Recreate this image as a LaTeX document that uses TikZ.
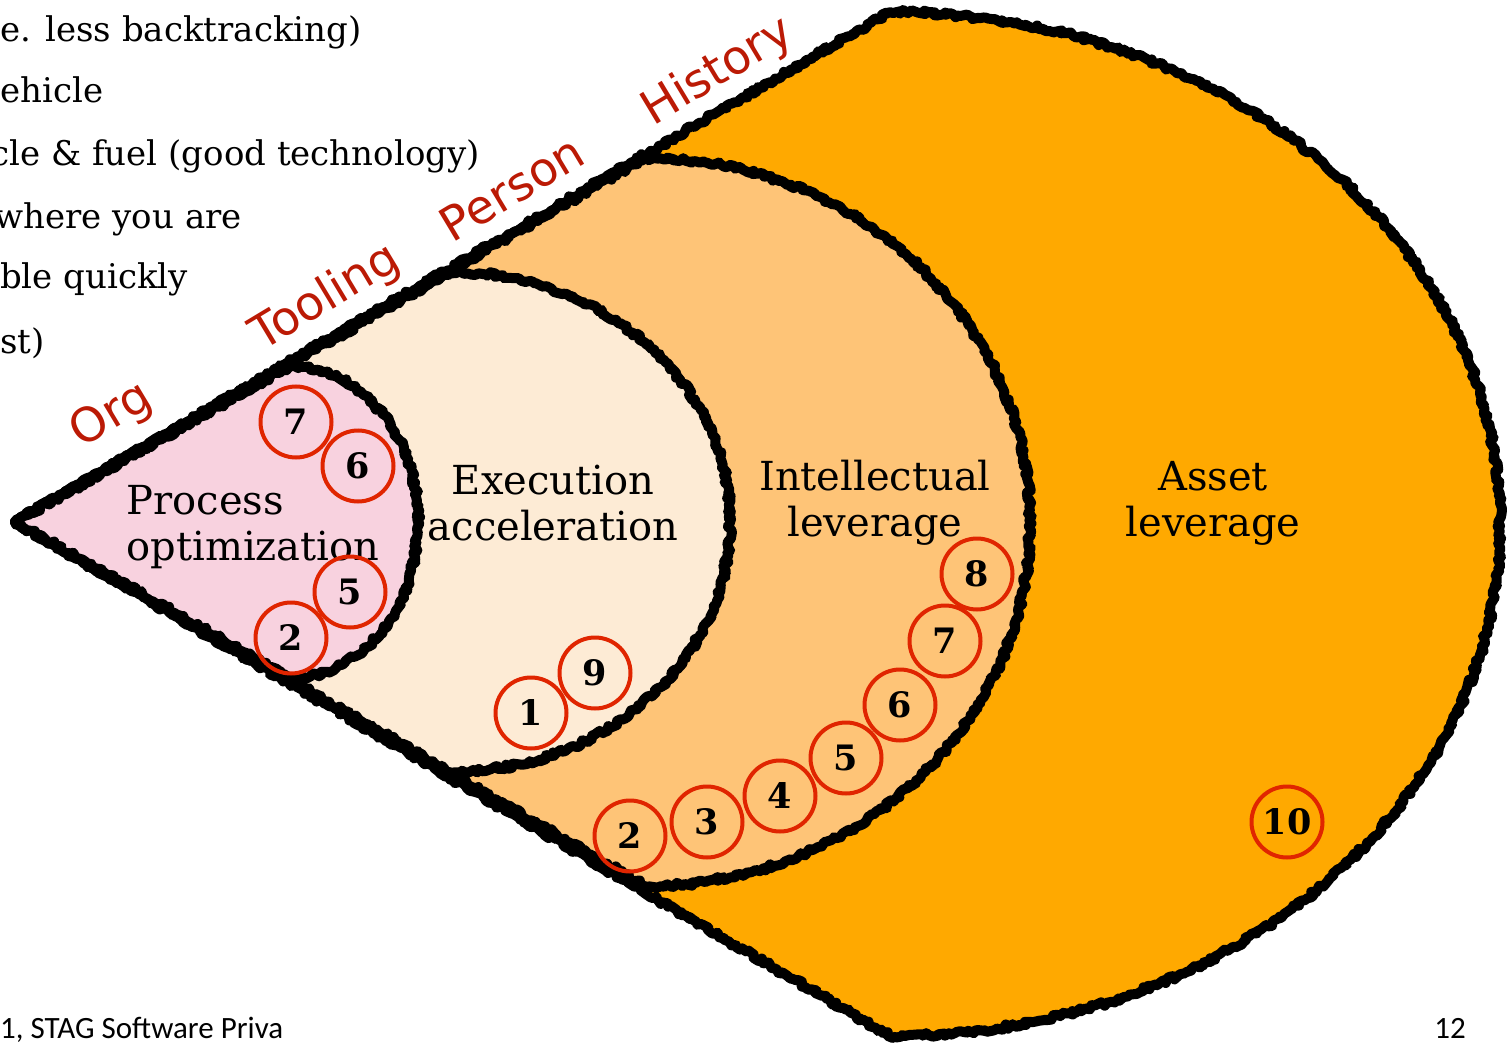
\documentclass[tikz,border=0pt]{standalone}
\usepackage{fontspec}
\setmainfont{DejaVu Serif}
\newfontfamily\tagfont{DejaVu Sans}
\newfontfamily\footfont{Carlito}
\usetikzlibrary{decorations.pathmorphing}
\definecolor{pinkfill}{HTML}{F8D2DF}
\definecolor{creamfill}{HTML}{FDEBD5}
\definecolor{peachfill}{HTML}{FEC477}
\definecolor{assetfill}{HTML}{FFA900}
\definecolor{tagred}{HTML}{BB1A05}
\definecolor{ringred}{HTML}{E02500}

\begin{document}
\begin{tikzpicture}[x=1pt, y=-1pt,
	rough/.style={draw=black, line width=10pt, line join=round, decorate, decoration={random steps, segment length=3pt, amplitude=2.4pt}},
	num/.style={circle, draw=ringred, line width=4pt, minimum size=71pt, inner sep=0pt, font=\fontsize{35}{35}\selectfont\bfseries},
	zone/.style={font=\fontsize{40}{46}\selectfont, align=center},
	tag/.style={font=\tagfont\fontsize{47}{47}\selectfont, text=tagred, rotate=31, inner sep=0pt},
	note/.style={font=\fontsize{34}{40}\selectfont, anchor=base west, inner sep=0pt},
	foot/.style={font=\footfont\fontsize{31}{32}\selectfont, inner sep=0pt}]
	\useasboundingbox(0, 0) rectangle (1508, 1046);
	\coordinate(tip) at (15, 522);
	\draw[rough, fill=assetfill](tip) -- (890, 12) arc[start angle=-90, end angle=90, x radius=610, y radius=512] -- cycle;
	\draw[rough, fill=peachfill](tip) -- (645, 158) arc[start angle=-90, end angle=90, x radius=385, y radius=364] -- cycle;
	\draw[rough, fill=creamfill](tip) -- (450, 272) arc[start angle=-90, end angle=90, x radius=280, y radius=250] -- cycle;
	\draw[rough, fill=pinkfill](tip) -- (290, 366) arc[start angle=-90, end angle=90, x radius=128, y radius=156] -- cycle;
	\draw(253, 527) node[zone, align=left](proc) {Process\\optimization};
	\draw(553, 503) node[zone](exec) {Execution\\acceleration};
	\draw(875, 503) node[zone](intel) {Intellectual\\leverage};
	\draw(1213, 503) node[zone](asset) {Asset\\leverage};
	\draw(112, 416) node[tag](org) {Org};
	\draw(326, 298) node[tag](tooling) {Tooling};
	\draw(512, 188) node[tag](person) {Person};
	\draw(718, 72) node[tag](history) {History};
	\draw(296, 422) node[num](po7) {7};
	\draw(358, 466) node[num](po6) {6};
	\draw(350, 592) node[num](po5) {5};
	\draw(291, 638) node[num](po2) {2};
	\draw(595, 673) node[num](ea9) {9};
	\draw(531, 713) node[num](ea1) {1};
	\draw(977, 574) node[num](il8) {8};
	\draw(945, 641) node[num](il7) {7};
	\draw(900, 705) node[num](il6) {6};
	\draw(846, 758) node[num](il5) {5};
	\draw(780, 796) node[num](il4) {4};
	\draw(707, 822) node[num](il3) {3};
	\draw(630, 836) node[num](il2) {2};
	\draw(1287, 822) node[num](al10) {10};
	\draw(0, 42) node[note](line1) {e. less backtracking)};
	\draw(0, 103) node[note](line2) {ehicle};
	\draw(480, 165) node[note, anchor=base east](line3) {cle \& fuel (good technology)};
	\draw(242, 228) node[note, anchor=base east](line4) {where you are};
	\draw(0, 288) node[note](line5) {ble quickly};
	\draw(0, 353) node[note](line6) {st)};
	\draw(0, 1038) node[foot, anchor=base west](footer) {1, STAG Software Priva};
	\draw(1466, 1038) node[foot, anchor=base east](page) {12};
\end{tikzpicture}
\end{document}
